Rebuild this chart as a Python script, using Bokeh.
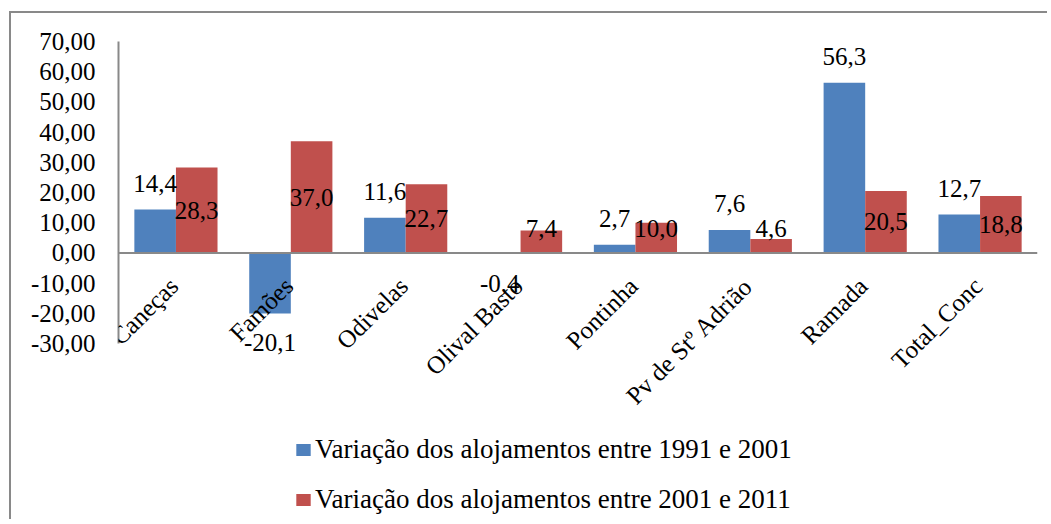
import math
from bokeh.plotting import figure
from bokeh.models import (ColumnDataSource, FactorRange, Range1d, FixedTicker,
                          LabelSet, Legend, LegendItem, Span)
from bokeh.transform import dodge
from bokeh.embed import file_html
from bokeh.resources import INLINE

categories = ["Caneças", "Famões", "Odivelas", "Olival Basto", "Pontinha",
              "Pv de Stº Adrião", "Ramada", "Total_Conc"]
var_1991_2001 = [14.4, -20.1, 11.6, -0.4, 2.7, 7.6, 56.3, 12.7]
var_2001_2011 = [28.3, 37.0, 22.7, 7.4, 10.0, 4.6, 20.5, 18.8]
series_names = ["Variação dos alojamentos entre 1991 e 2001",
                "Variação dos alojamentos entre 2001 e 2011"]
y_ticks = [-30, -20, -10, 0, 10, 20, 30, 40, 50, 60, 70]

FONT = "Liberation Serif"
FS = "25px"
LEG_FS = "27px"
BLUE = "#4F81BD"
RED = "#C0504D"
GREY = "#898989"

W, H = 1038, 508
TOP, LEFT, RIGHT = 28, 107, 12
PX_PER_UNIT = 3.02  # axis scale of the value axis (pixels per unit)
y_max = max(y_ticks)
y_min = y_max - (H - TOP) / PX_PER_UNIT  # frame extends below -30 to hold labels


def fmt(v, d):
    return f"{v:.{d}f}".replace(".", ",")


src = ColumnDataSource(dict(
    cat=categories,
    a=var_1991_2001,
    b=var_2001_2011,
    zero=[0] * len(categories),
    a_lbl=[fmt(v, 1) for v in var_1991_2001],
    b_lbl=[fmt(v, 1) for v in var_2001_2011],
    a_off=[26 if v >= 0 else -29 for v in var_1991_2001],
    b_y=[max(v / 2, 8) for v in var_2001_2011],
))

p = figure(x_range=FactorRange(*categories), y_range=Range1d(y_min, y_max),
           width=W, height=H, output_backend="svg", toolbar_location=None,
           min_border_left=LEFT, min_border_right=RIGHT, min_border_top=TOP,
           min_border_bottom=0)
p.margin = (11, 0, 0, 9)
p.styles = {"border-left": f"2px solid {GREY}", "border-top": f"2px solid {GREY}"}
p.outline_line_color = None
p.xgrid.grid_line_color = None
p.ygrid.grid_line_color = None

bw = 0.362
r1 = p.vbar(x=dodge("cat", -bw / 2, range=p.x_range), top="a", bottom=0, width=bw,
            source=src, fill_color=BLUE, line_color=None)
r2 = p.vbar(x=dodge("cat", bw / 2, range=p.x_range), top="b", bottom=0, width=bw,
            source=src, fill_color=RED, line_color=None)

# zero line
p.add_layout(Span(location=0, dimension="width", line_color=GREY, line_width=2))

# y axis
p.yaxis.bounds = (min(y_ticks), max(y_ticks))
p.yaxis.ticker = FixedTicker(ticks=y_ticks)
p.yaxis.major_label_overrides = {t: fmt(t, 2) for t in y_ticks}
p.yaxis.axis_line_color = GREY
p.yaxis.axis_line_width = 2
p.yaxis.major_tick_line_color = None
p.yaxis.minor_tick_line_color = None
p.yaxis.major_tick_out = 0
p.yaxis.major_tick_in = 0
p.yaxis.major_label_standoff = 23
p.yaxis.major_label_text_font = FONT
p.yaxis.major_label_text_font_size = FS
p.yaxis.major_label_text_color = "black"

p.xaxis.visible = False

# category labels just below the zero line
lc = LabelSet(x="cat", y="zero", text="cat", source=src, angle=math.pi / 4,
              text_align="right", text_baseline="middle", x_offset=-2, y_offset=-29,
              text_font=FONT, text_font_size=FS, text_color="black")
p.add_layout(lc)

# data labels
la = LabelSet(x=dodge("cat", -bw / 2, range=p.x_range), y="a", text="a_lbl",
              y_offset="a_off", source=src, text_align="center",
              text_baseline="middle", text_font=FONT, text_font_size=FS,
              text_color="black")
lb = LabelSet(x=dodge("cat", bw / 2, range=p.x_range), y="b_y", text="b_lbl",
              source=src, text_align="center", text_baseline="middle",
              text_font=FONT, text_font_size=FS, text_color="black")
p.add_layout(la)
p.add_layout(lb)

legend = Legend(items=[LegendItem(label=series_names[0], renderers=[r1]),
                       LegendItem(label=series_names[1], renderers=[r2])],
                location=(176, 6), orientation="vertical", padding=0, margin=0,
                border_line_color=None, background_fill_alpha=0,
                glyph_width=18, glyph_height=15, label_standoff=3, spacing=19,
                label_text_font=FONT, label_text_font_size=LEG_FS,
                label_text_color="black")
p.add_layout(legend)

open("out.html", "w").write(file_html(p, INLINE))
